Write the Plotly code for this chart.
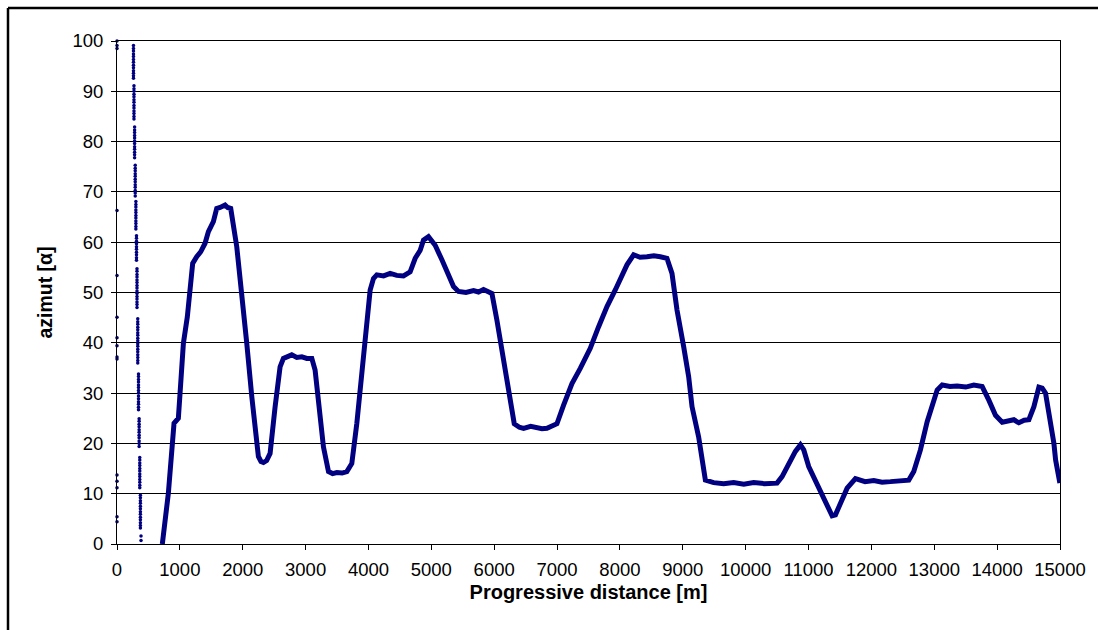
import plotly.graph_objects as go

# Main azimuth curve
dist_m = [721, 817, 907, 976, 1003, 1056, 1119, 1162, 1204, 1268, 1332, 1401, 1454, 1533,
          1586, 1640, 1680, 1719, 1760, 1809, 1905, 1985, 2064, 2144, 2196, 2249, 2290, 2329,
          2380, 2435, 2515, 2594, 2647, 2700, 2780, 2860, 2940, 3020, 3099, 3151, 3231, 3284,
          3364, 3430, 3497, 3580, 3656, 3735, 3815, 3868, 3921, 3974, 4027, 4080, 4133, 4240,
          4345, 4450, 4557, 4663, 4743, 4823, 4875, 4955, 5061, 5168, 5273, 5353, 5432, 5550,
          5671, 5750, 5830, 5964, 6043, 6149, 6255, 6319, 6400, 6467, 6580, 6680, 6760, 6839,
          6998, 7104, 7237, 7369, 7528, 7661, 7794, 7926, 8032, 8112, 8218, 8320, 8430, 8540,
          8642, 8748, 8828, 8908, 9014, 9093, 9147, 9252, 9359, 9491, 9650, 9809, 9970, 10127,
          10300, 10499, 10579, 10712, 10791, 10871, 10924, 11003, 11109, 11242, 11375, 11428,
          11507, 11614, 11746, 11900, 12038, 12170, 12303, 12450, 12595, 12674, 12780, 12887,
          12966, 13046, 13126, 13250, 13364, 13500, 13629, 13762, 13868, 13974, 14081, 14180,
          14266, 14346, 14430, 14505, 14585, 14664, 14717, 14770, 14850, 14903, 14930, 14998]
azimut = [0.0, 10.1, 24.0, 25.0, 30.0, 39.9, 45.2, 50.5, 55.8, 57.1, 58.1, 59.8, 62.1, 64.1,
          66.7, 66.9, 67.2, 67.4, 66.9, 66.7, 59.1, 50.5, 39.9, 29.3, 22.7, 17.4, 16.4, 16.2,
          16.6, 18.0, 27.3, 35.2, 36.9, 37.2, 37.6, 37.1, 37.2, 36.9, 36.9, 34.6, 25.3, 19.3,
          14.4, 14.0, 14.2, 14.1, 14.4, 16.0, 24.0, 30.5, 37.2, 44.5, 50.5, 52.8, 53.5, 53.3,
          53.8, 53.4, 53.3, 54.1, 56.8, 58.4, 60.4, 61.1, 59.4, 56.5, 53.5, 51.2, 50.2, 50.0,
          50.4, 50.1, 50.6, 49.8, 44.5, 36.6, 29.3, 23.9, 23.2, 23.0, 23.4, 23.2, 22.9, 23.0,
          23.9, 27.6, 31.9, 34.9, 38.9, 43.2, 47.2, 50.5, 53.1, 55.5, 57.5, 57.0, 57.1, 57.3,
          57.1, 56.8, 53.8, 46.5, 39.2, 33.3, 27.3, 21.3, 12.7, 12.2, 12.0, 12.2, 11.9, 12.2,
          12.0, 12.1, 13.4, 16.7, 18.4, 19.7, 18.7, 15.4, 12.7, 9.4, 5.6, 5.8,
          8.1, 11.1, 13.0, 12.4, 12.6, 12.3, 12.4, 12.6, 12.7, 14.4, 18.7, 24.3,
          27.6, 30.6, 31.6, 31.3, 31.4, 31.2, 31.6, 31.3, 28.6, 25.6, 24.2, 24.5,
          24.7, 24.1, 24.6, 24.7, 27.3, 31.2, 31.0, 30.0, 24.7, 20.0, 16.7, 12.1]

# Isolated points at distance 0
zero_dist_az = [100.0, 99.1, 98.5, 66.3, 53.4, 45.1, 41.0, 39.4, 37.2, 36.8,
                13.7, 12.5, 11.2, 5.4, 4.4]

# Dotted column of wrapped values near 260-380 m (segments)
col_seg_x = [262, 270, 280, 290, 300, 310, 318, 330, 342, 352, 362, 372, 382]
col_seg_y = [
    [99.1, 98.5, 98.0, 97.4, 96.9, 96.3, 95.8, 95.2, 94.7, 94.1, 93.6, 93.1, 92.6],
    [91.1, 90.5, 90.0, 89.4, 88.9, 88.3, 87.8, 87.2, 86.7, 86.1, 85.6, 85.0, 84.5],
    [82.9, 82.3, 81.8, 81.2, 80.7, 80.1, 79.6, 79.0, 78.5, 77.9, 77.4, 76.8],
    [75.3, 74.7, 74.2, 73.6, 73.1, 72.5, 72.0, 71.4, 70.9, 70.3, 69.8, 69.2],
    [68.1, 67.5, 67.0, 66.4, 65.9, 65.3, 64.8, 64.2, 63.7, 63.1, 62.6],
    [61.3, 60.8, 60.2, 59.7, 59.1, 58.6, 58.0, 57.5, 56.9, 56.4],
    [54.7, 54.2, 53.6, 53.1, 52.5, 52.0, 51.4, 50.9, 50.3, 49.8, 49.2, 48.7, 48.1, 47.6, 47.0],
    [44.8, 44.2, 43.7, 43.1, 42.6, 42.0, 41.5, 40.9, 40.4, 39.8, 39.3, 38.7, 38.2, 37.6, 37.1, 36.5, 36.0],
    [33.8, 33.3, 32.7, 32.2, 31.6, 31.1, 30.5, 30.0, 29.4, 28.9, 28.3, 27.8, 27.2, 26.7],
    [24.9, 24.4, 23.8, 23.3, 22.7, 22.2, 21.6, 21.1, 20.5, 20.0, 19.4],
    [17.2, 16.7, 16.1, 15.6, 15.0, 14.5, 13.9, 13.4, 12.8, 12.3, 11.7, 11.2],
    [9.7, 9.2, 8.6, 8.1, 7.5, 7.0, 6.4, 5.9, 5.3, 4.8, 4.2, 3.7, 3.2],
    [1.6, 0.7],
]

x_ticks = list(range(0, 15001, 1000))
y_ticks = list(range(0, 101, 10))

col_x, col_y = [], []
for sx, ys in zip(col_seg_x, col_seg_y):
    for v in ys:
        col_x.append(sx)
        col_y.append(v)

NAVY = "#000080"
FONT = "Liberation Sans, Arial, sans-serif"

fig = go.Figure()
fig.add_trace(go.Scatter(x=dist_m, y=azimut, mode="lines",
                         line=dict(color=NAVY, width=5), showlegend=False))
fig.add_trace(go.Scatter(x=[0] * len(zero_dist_az), y=zero_dist_az, mode="markers",
                         marker=dict(color=NAVY, size=3.5), showlegend=False,
                         cliponaxis=False))
fig.add_trace(go.Scatter(x=col_x, y=col_y, mode="markers",
                         marker=dict(color=NAVY, size=3.5), showlegend=False))

L, R, T, B = 117, 38, 41, 86
W, H = 1098, 630
pw, ph = W - L - R, H - T - B
fx = (8 - L) / pw
fy = 1 + (T - 8) / ph

fig.update_layout(
    width=W, height=H,
    margin=dict(l=L, r=R, t=T, b=B),
    paper_bgcolor="white", plot_bgcolor="white",
    font=dict(family=FONT, color="black", size=18),
    xaxis=dict(range=[0, 15000], tickmode="array", tickvals=x_ticks,
               ticktext=[str(v) for v in x_ticks],
               showgrid=False, zeroline=False, showline=True, linecolor="black",
               linewidth=1, mirror=True, ticks="outside", ticklen=5, tickcolor="black",
               tickfont=dict(size=18.5), ticklabelstandoff=4,
               title=dict(text="<b>Progressive distance [m]</b>", font=dict(size=20),
                          standoff=5)),
    yaxis=dict(range=[0, 100], tickmode="array", tickvals=y_ticks,
               ticktext=[str(v) for v in y_ticks],
               showgrid=True, gridcolor="black", gridwidth=1, zeroline=False,
               showline=True, linecolor="black", linewidth=1, mirror=True,
               ticks="outside", ticklen=5, tickcolor="black",
               tickfont=dict(size=18.5), ticklabelstandoff=4,
               title=dict(text="<b>azimut [α]</b>", font=dict(size=19.5), standoff=14)),
    shapes=[
        dict(type="line", xref="paper", yref="paper", x0=fx, x1=1.2, y0=fy, y1=fy,
             line=dict(color="black", width=2.5)),
        dict(type="line", xref="paper", yref="paper", x0=fx, x1=fx, y0=fy, y1=-0.3,
             line=dict(color="black", width=2.5)),
    ],
)

fig.write_html("out.html")
